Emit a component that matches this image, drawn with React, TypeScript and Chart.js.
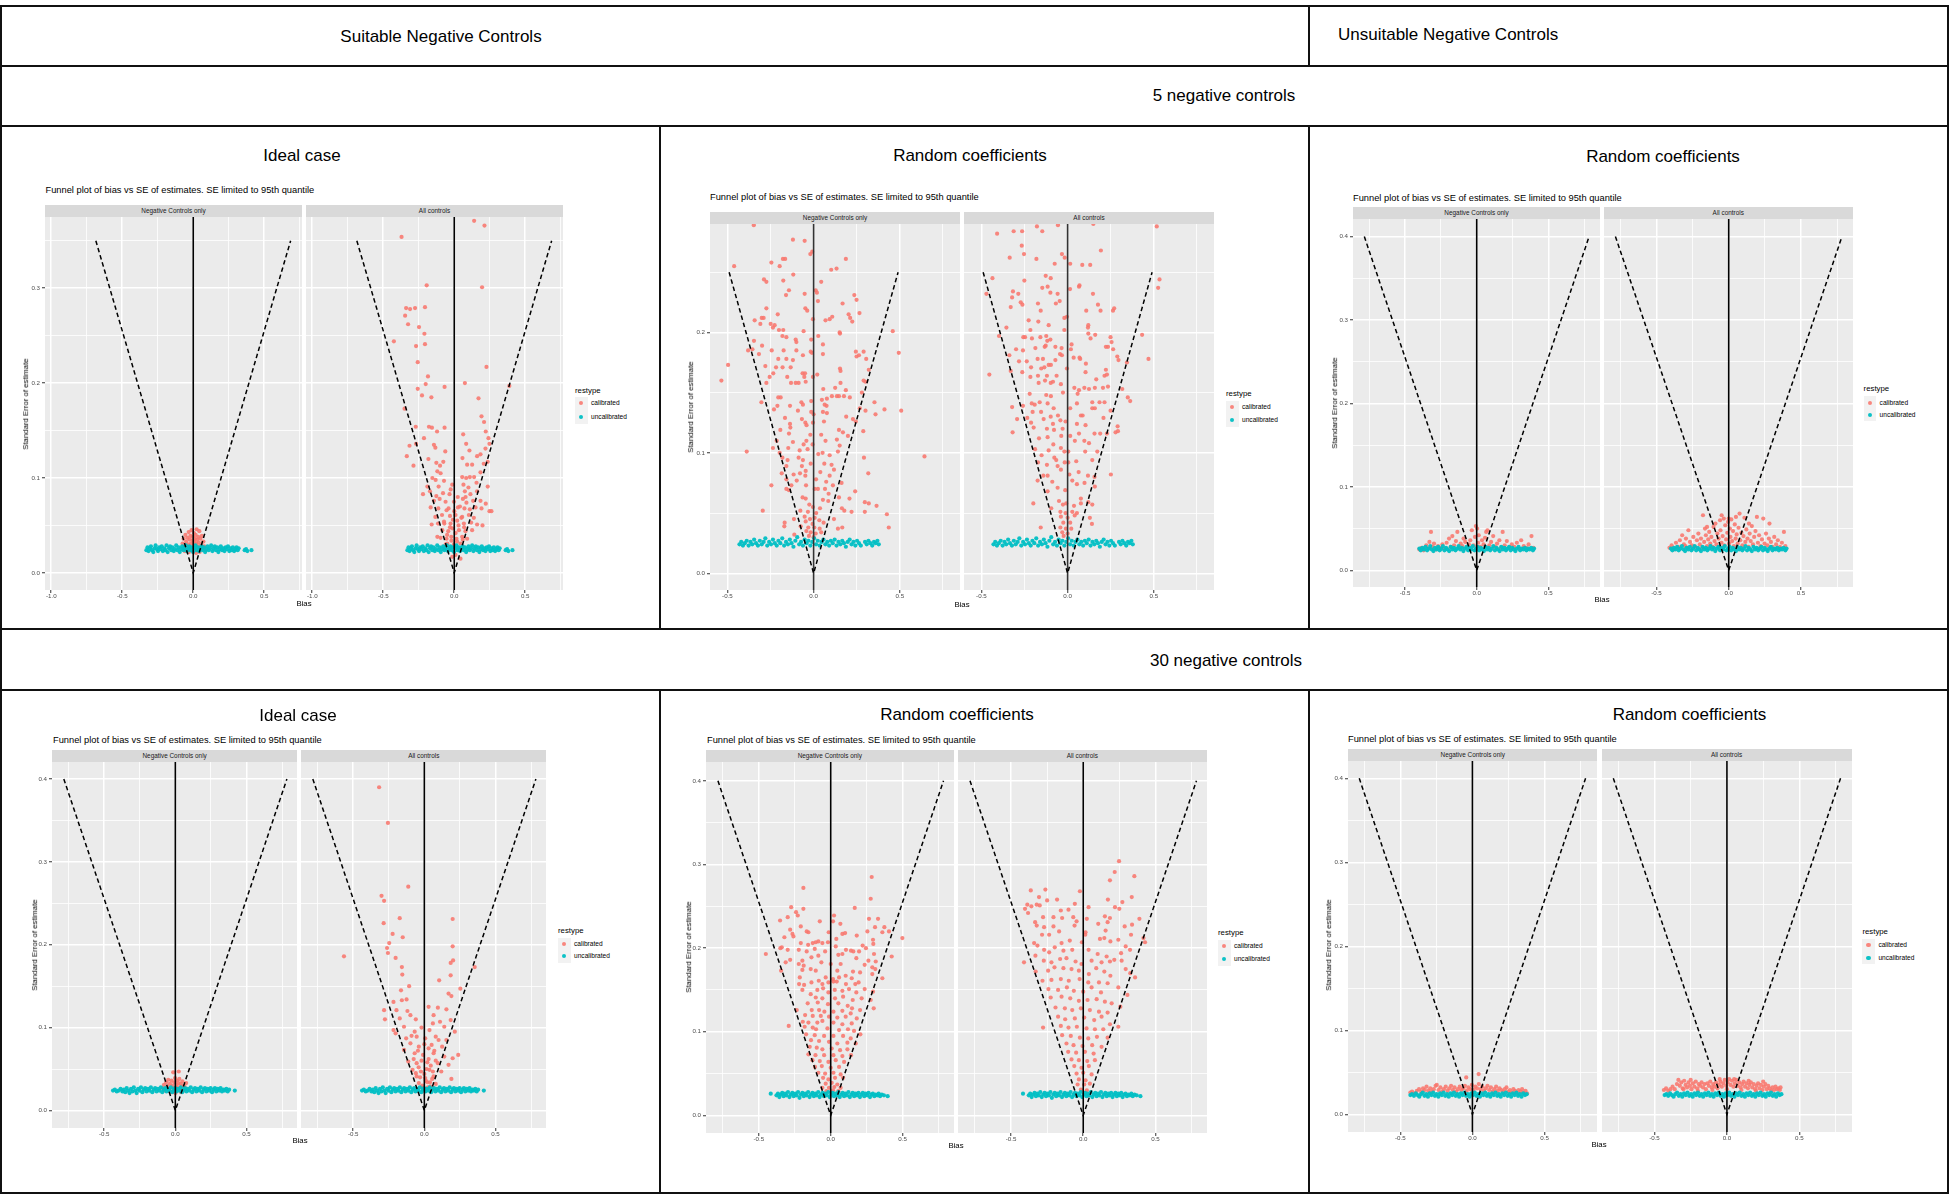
import React, { useEffect, useRef } from "react";
import { Chart, registerables } from "chart.js";

Chart.register(...registerables);

type Pt = [number, number];

// ---------------- text ----------------
const HEADER_SUITABLE = "Suitable Negative Controls";
const HEADER_UNSUITABLE = "Unsuitable Negative Controls";
const ROW_LABELS = ["5 negative controls", "30 negative controls"];
const PANEL_TITLES = ["Ideal case", "Random coefficients", "Random coefficients", "Ideal case", "Random coefficients", "Random coefficients"];
const SUBTITLE = "Funnel plot of bias vs SE of estimates. SE limited to 95th quantile";
const FACET_LABELS = ["Negative Controls only", "All controls"];
const LEGEND_TITLE = "restype";
const LEGEND_LABELS = ["calibrated", "uncalibrated"];
const X_TITLE = "Bias";
const Y_TITLE = "Standard Error of estimate";

// ---------------- ticks ----------------
const X_MAJOR_WIDE = [-1, -0.5, 0, 0.5];
const X_MAJOR = [-0.5, 0, 0.5];
const X_MINOR = [-0.75, -0.25, 0.25, 0.75];
const Y_MAJOR_035 = [0, 0.1, 0.2, 0.3];
const Y_MAJOR_025 = [0, 0.1, 0.2];
const Y_MAJOR_04 = [0, 0.1, 0.2, 0.3, 0.4];
const Y_MINOR = [0.05, 0.15, 0.25, 0.35];

// ---------------- funnel limits (bias = ±1.96·SE) ----------------
const FUNNEL_035: Pt[] = [[-0.686, 0.35], [0, 0], [0.686, 0.35]];
const FUNNEL_025: Pt[] = [[-0.49, 0.25], [0, 0], [0.49, 0.25]];
const FUNNEL_04: Pt[] = [[-0.784, 0.4], [0, 0], [0.784, 0.4]];
const ZERO_BIAS = 0;

// ---------------- uncalibrated estimates ----------------
const BAND_I5: Pt[] = [[-0.330,0.024],[-0.322,0.027],[-0.315,0.023],[-0.305,0.026],[-0.298,0.028],[-0.290,0.024],[-0.281,0.022],[-0.272,0.026],[-0.265,0.029],[-0.256,0.025],[-0.248,0.023],[-0.240,0.027],[-0.231,0.025],[-0.222,0.028],[-0.214,0.023],[-0.205,0.026],[-0.197,0.024],[-0.188,0.029],[-0.180,0.022],[-0.171,0.026],[-0.163,0.028],[-0.154,0.024],[-0.146,0.027],[-0.137,0.023],[-0.129,0.025],[-0.120,0.029],[-0.112,0.024],[-0.103,0.027],[-0.095,0.022],[-0.086,0.025],[-0.078,0.028],[-0.069,0.024],[-0.061,0.026],[-0.052,0.029],[-0.044,0.023],[-0.035,0.026],[-0.027,0.028],[-0.018,0.024],[-0.010,0.027],[-0.001,0.022],[0.007,0.026],[0.016,0.029],[0.024,0.024],[0.033,0.027],[0.041,0.023],[0.050,0.026],[0.058,0.028],[0.067,0.024],[0.075,0.027],[0.084,0.022],[0.092,0.025],[0.101,0.028],[0.109,0.024],[0.118,0.026],[0.126,0.029],[0.135,0.023],[0.143,0.026],[0.152,0.028],[0.160,0.024],[0.169,0.027],[0.177,0.022],[0.186,0.025],[0.194,0.028],[0.203,0.024],[0.211,0.026],[0.220,0.023],[0.228,0.027],[0.237,0.025],[0.245,0.028],[0.254,0.023],[0.262,0.026],[0.271,0.024],[0.279,0.027],[0.288,0.023],[0.296,0.025],[0.305,0.027],[0.313,0.024],[0.320,0.026],[0.362,0.024],[0.372,0.025],[0.381,0.023],[0.410,0.024]];
const BAND_R5: Pt[] = [[-0.430,0.024],[-0.420,0.026],[-0.410,0.023],[-0.399,0.025],[-0.388,0.027],[-0.377,0.023],[-0.366,0.026],[-0.356,0.024],[-0.345,0.028],[-0.334,0.025],[-0.323,0.023],[-0.312,0.027],[-0.301,0.024],[-0.290,0.026],[-0.280,0.029],[-0.269,0.023],[-0.258,0.026],[-0.247,0.024],[-0.236,0.028],[-0.225,0.025],[-0.214,0.023],[-0.204,0.027],[-0.193,0.025],[-0.182,0.029],[-0.171,0.023],[-0.160,0.026],[-0.149,0.024],[-0.138,0.028],[-0.128,0.025],[-0.117,0.022],[-0.106,0.027],[-0.095,0.030],[-0.084,0.024],[-0.073,0.026],[-0.062,0.023],[-0.052,0.028],[-0.041,0.025],[-0.030,0.027],[-0.019,0.023],[-0.008,0.026],[0.003,0.029],[0.014,0.024],[0.024,0.027],[0.035,0.023],[0.046,0.026],[0.057,0.028],[0.068,0.024],[0.079,0.026],[0.090,0.023],[0.100,0.027],[0.111,0.025],[0.122,0.028],[0.133,0.023],[0.144,0.026],[0.155,0.024],[0.166,0.027],[0.176,0.025],[0.187,0.022],[0.198,0.026],[0.209,0.028],[0.220,0.024],[0.231,0.026],[0.242,0.023],[0.252,0.027],[0.263,0.025],[0.274,0.023],[0.298,0.026],[0.308,0.024],[0.318,0.027],[0.329,0.025],[0.340,0.023],[0.350,0.026],[0.360,0.025],[0.370,0.027],[0.378,0.024]];
const BAND_U5: Pt[] = [[-0.400,0.026],[-0.390,0.024],[-0.379,0.027],[-0.368,0.025],[-0.357,0.028],[-0.346,0.024],[-0.335,0.026],[-0.324,0.029],[-0.313,0.025],[-0.302,0.023],[-0.291,0.027],[-0.280,0.025],[-0.269,0.028],[-0.258,0.024],[-0.247,0.026],[-0.236,0.029],[-0.225,0.024],[-0.214,0.027],[-0.203,0.025],[-0.192,0.023],[-0.181,0.028],[-0.170,0.025],[-0.159,0.027],[-0.148,0.024],[-0.137,0.026],[-0.126,0.029],[-0.115,0.025],[-0.104,0.027],[-0.093,0.023],[-0.082,0.026],[-0.071,0.028],[-0.060,0.024],[-0.049,0.027],[-0.038,0.025],[-0.027,0.029],[-0.016,0.024],[-0.005,0.026],[0.006,0.028],[0.017,0.024],[0.028,0.027],[0.039,0.025],[0.050,0.023],[0.061,0.028],[0.072,0.025],[0.083,0.027],[0.094,0.024],[0.105,0.026],[0.116,0.029],[0.127,0.024],[0.138,0.027],[0.149,0.025],[0.160,0.023],[0.171,0.028],[0.182,0.025],[0.193,0.027],[0.204,0.024],[0.215,0.026],[0.226,0.028],[0.237,0.024],[0.248,0.027],[0.259,0.025],[0.270,0.023],[0.281,0.026],[0.292,0.028],[0.303,0.024],[0.314,0.026],[0.325,0.025],[0.336,0.027],[0.347,0.024],[0.358,0.026],[0.369,0.025],[0.380,0.027],[0.392,0.024],[0.400,0.026]];
const BAND_I30: Pt[] = [[-0.438,0.024],[-0.425,0.025],[-0.412,0.023],[-0.398,0.024],[-0.385,0.026],[-0.372,0.023],[-0.362,0.025],[-0.352,0.022],[-0.342,0.027],[-0.332,0.024],[-0.322,0.021],[-0.312,0.026],[-0.302,0.023],[-0.292,0.028],[-0.282,0.024],[-0.272,0.021],[-0.262,0.026],[-0.252,0.024],[-0.242,0.028],[-0.232,0.022],[-0.222,0.025],[-0.212,0.027],[-0.202,0.023],[-0.192,0.026],[-0.182,0.024],[-0.172,0.028],[-0.162,0.022],[-0.152,0.025],[-0.142,0.027],[-0.132,0.023],[-0.122,0.026],[-0.112,0.024],[-0.102,0.028],[-0.092,0.022],[-0.082,0.025],[-0.072,0.027],[-0.062,0.023],[-0.052,0.026],[-0.042,0.024],[-0.032,0.028],[-0.022,0.022],[-0.012,0.025],[-0.002,0.027],[0.008,0.023],[0.018,0.026],[0.028,0.024],[0.038,0.028],[0.048,0.022],[0.058,0.025],[0.068,0.027],[0.078,0.023],[0.088,0.026],[0.098,0.024],[0.108,0.028],[0.118,0.022],[0.128,0.025],[0.138,0.027],[0.148,0.023],[0.158,0.026],[0.168,0.024],[0.178,0.028],[0.188,0.022],[0.198,0.025],[0.208,0.027],[0.218,0.023],[0.228,0.026],[0.238,0.024],[0.248,0.027],[0.258,0.022],[0.268,0.025],[0.278,0.027],[0.288,0.023],[0.298,0.026],[0.308,0.024],[0.318,0.027],[0.328,0.023],[0.338,0.025],[0.348,0.024],[0.358,0.026],[0.368,0.023],[0.378,0.025],[0.418,0.024]];
const BAND_R30: Pt[] = [[-0.417,0.026],[-0.377,0.024],[-0.367,0.026],[-0.357,0.022],[-0.347,0.025],[-0.337,0.027],[-0.327,0.023],[-0.317,0.026],[-0.307,0.024],[-0.297,0.028],[-0.287,0.022],[-0.277,0.025],[-0.267,0.027],[-0.257,0.023],[-0.247,0.026],[-0.237,0.024],[-0.227,0.028],[-0.217,0.021],[-0.207,0.025],[-0.197,0.027],[-0.187,0.023],[-0.177,0.026],[-0.167,0.024],[-0.157,0.028],[-0.147,0.022],[-0.137,0.025],[-0.127,0.027],[-0.117,0.023],[-0.107,0.026],[-0.097,0.024],[-0.087,0.028],[-0.077,0.022],[-0.067,0.025],[-0.057,0.027],[-0.047,0.023],[-0.037,0.026],[-0.027,0.024],[-0.017,0.028],[-0.007,0.022],[0.003,0.025],[0.013,0.027],[0.023,0.023],[0.033,0.026],[0.043,0.024],[0.053,0.028],[0.063,0.022],[0.073,0.025],[0.083,0.027],[0.093,0.023],[0.103,0.026],[0.113,0.024],[0.123,0.028],[0.133,0.022],[0.143,0.025],[0.153,0.027],[0.163,0.023],[0.173,0.026],[0.183,0.024],[0.193,0.027],[0.203,0.022],[0.213,0.025],[0.223,0.027],[0.233,0.023],[0.243,0.026],[0.253,0.024],[0.263,0.027],[0.273,0.022],[0.283,0.025],[0.293,0.026],[0.303,0.023],[0.313,0.025],[0.323,0.024],[0.333,0.026],[0.343,0.023],[0.355,0.025],[0.370,0.024],[0.396,0.023]];
const BAND_U30: Pt[] = [[-0.430,0.023],[-0.418,0.024],[-0.405,0.022],[-0.392,0.025],[-0.380,0.023],[-0.368,0.021],[-0.356,0.024],[-0.344,0.026],[-0.332,0.022],[-0.320,0.024],[-0.308,0.021],[-0.296,0.025],[-0.284,0.023],[-0.272,0.026],[-0.260,0.022],[-0.248,0.024],[-0.236,0.021],[-0.224,0.025],[-0.212,0.023],[-0.200,0.026],[-0.188,0.022],[-0.176,0.024],[-0.164,0.021],[-0.152,0.025],[-0.140,0.023],[-0.128,0.026],[-0.116,0.022],[-0.104,0.024],[-0.092,0.021],[-0.080,0.025],[-0.068,0.023],[-0.056,0.026],[-0.044,0.022],[-0.032,0.024],[-0.020,0.021],[-0.008,0.025],[0.004,0.023],[0.016,0.026],[0.028,0.022],[0.040,0.024],[0.052,0.021],[0.064,0.025],[0.076,0.023],[0.088,0.026],[0.100,0.022],[0.112,0.024],[0.124,0.021],[0.136,0.025],[0.148,0.023],[0.160,0.026],[0.172,0.022],[0.184,0.024],[0.196,0.021],[0.208,0.025],[0.220,0.023],[0.232,0.026],[0.244,0.022],[0.256,0.024],[0.268,0.021],[0.280,0.025],[0.292,0.023],[0.304,0.026],[0.316,0.022],[0.328,0.024],[0.340,0.021],[0.352,0.025],[0.364,0.023],[0.376,0.024]];

// ---------------- calibrated estimates ----------------
const I5_NC_CAL: Pt[] = [[-0.075,0.031],[-0.068,0.036],[-0.062,0.028],[-0.055,0.040],[-0.050,0.033],[-0.046,0.025],[-0.041,0.037],[-0.036,0.030],[-0.032,0.043],[-0.028,0.027],[-0.024,0.035],[-0.020,0.039],[-0.016,0.031],[-0.012,0.045],[-0.009,0.026],[-0.005,0.034],[-0.002,0.038],[0.002,0.029],[0.005,0.042],[0.008,0.033],[0.011,0.036],[0.014,0.024],[0.017,0.040],[0.020,0.031],[0.024,0.046],[0.027,0.035],[0.031,0.028],[0.035,0.038],[0.039,0.032],[0.043,0.044],[0.047,0.027],[0.051,0.036],[0.056,0.030],[0.061,0.039],[0.066,0.025],[0.072,0.033],[0.078,0.028],[-0.030,0.022],[0.020,0.021],[0.045,0.022],[-0.060,0.023],[0.083,0.024]];
const I5_ALL_CAL: Pt[] = [[0.140,0.371],[0.213,0.366],[-0.371,0.354],[-0.194,0.303],[0.196,0.301],[-0.339,0.279],[-0.311,0.278],[-0.276,0.279],[-0.206,0.280],[-0.346,0.271],[-0.325,0.262],[-0.248,0.259],[-0.210,0.252],[-0.425,0.244],[-0.269,0.239],[-0.206,0.241],[-0.257,0.222],[0.227,0.217],[-0.185,0.207],[-0.201,0.199],[-0.257,0.194],[-0.068,0.196],[0.075,0.200],[0.388,0.197],[-0.227,0.187],[-0.161,0.185],[0.171,0.184],[-0.350,0.173],[0.192,0.165],[-0.271,0.154],[-0.178,0.154],[-0.157,0.153],[-0.068,0.153],[-0.121,0.149],[0.210,0.159],[-0.213,0.142],[0.063,0.146],[0.222,0.149],[0.241,0.142],[-0.315,0.134],[-0.269,0.136],[-0.143,0.135],[-0.133,0.132],[0.084,0.136],[0.248,0.136],[0.220,0.131],[-0.334,0.123],[-0.287,0.113],[-0.182,0.120],[-0.063,0.128],[0.058,0.121],[0.107,0.129],[0.161,0.123],[0.185,0.125],[0.208,0.115],[0.236,0.117],[-0.126,0.116],[-0.100,0.113],[-0.077,0.117],[0.091,0.114],[0.126,0.114],[-0.119,0.107],[-0.096,0.105],[0.056,0.101],[0.084,0.100],[0.110,0.101],[0.140,0.101],[0.185,0.106],[-0.154,0.100],[-0.131,0.098],[-0.072,0.097],[-0.014,0.093],[0.065,0.093],[0.157,0.095],[0.236,0.091],[-0.189,0.091],[-0.110,0.091],[-0.220,0.083],[-0.171,0.086],[-0.126,0.081],[-0.079,0.084],[-0.033,0.083],[0.075,0.086],[0.114,0.083],[0.161,0.086],[0.222,0.073],[-0.143,0.076],[-0.103,0.078],[-0.061,0.075],[-0.002,0.075],[0.061,0.078],[0.086,0.074],[0.133,0.076],[0.185,0.076],[-0.166,0.069],[-0.112,0.068],[-0.054,0.066],[0.026,0.069],[0.072,0.068],[0.110,0.067],[0.150,0.069],[0.192,0.068],[0.248,0.065],[0.262,0.065],[0.199,0.050],[-0.159,0.051],[-0.133,0.059],[-0.086,0.061],[-0.030,0.060],[0.009,0.061],[0.056,0.059],[0.103,0.061],[0.138,0.058],[-0.114,0.052],[-0.072,0.054],[-0.026,0.052],[0.021,0.055],[0.068,0.052],[0.119,0.053],[0.161,0.051],[-0.119,0.038],[-0.084,0.045],[-0.042,0.044],[-0.014,0.047],[0.033,0.045],[0.079,0.044],[0.126,0.045],[-0.096,0.037],[-0.054,0.036],[-0.021,0.038],[0.016,0.036],[0.056,0.038],[0.091,0.036],[-0.049,0.031],[-0.002,0.030],[0.044,0.031],[-0.030,0.026],[0.026,0.026],[0.009,0.019],[0.044,0.015],[-0.014,0.017],[-0.050,0.040],[-0.030,0.048],[-0.010,0.056],[0.010,0.042],[0.030,0.050],[0.050,0.058],[-0.020,0.034],[0.020,0.033],[0.000,0.065],[0.040,0.070],[-0.040,0.068],[0.070,0.048],[-0.070,0.052],[0.060,0.035],[-0.060,0.030],[0.000,0.028],[0.025,0.080],[-0.025,0.088],[0.080,0.080],[0.100,0.090]];
const R5_NC_CAL: Pt[] = [[-0.347,0.289],[-0.120,0.277],[-0.052,0.276],[-0.008,0.267],[-0.019,0.265],[-0.461,0.255],[-0.245,0.258],[-0.197,0.255],[-0.178,0.261],[-0.165,0.261],[0.187,0.261],[0.102,0.252],[0.133,0.253],[-0.118,0.248],[-0.288,0.244],[-0.274,0.242],[-0.176,0.243],[0.044,0.242],[0.012,0.235],[0.019,0.233],[-0.143,0.235],[-0.160,0.231],[-0.052,0.232],[0.236,0.231],[0.249,0.227],[0.025,0.226],[0.168,0.224],[-0.274,0.220],[-0.048,0.220],[-0.037,0.218],[-0.208,0.215],[0.203,0.215],[0.266,0.216],[0.212,0.212],[0.224,0.209],[-0.004,0.211],[-0.342,0.210],[-0.301,0.212],[-0.290,0.212],[-0.309,0.207],[-0.249,0.207],[-0.226,0.206],[-0.236,0.204],[0.069,0.210],[0.093,0.211],[0.108,0.213],[-0.201,0.202],[-0.176,0.202],[-0.058,0.201],[0.151,0.200],[0.153,0.199],[0.459,0.201],[0.027,0.197],[-0.181,0.197],[-0.158,0.196],[-0.014,0.194],[-0.104,0.194],[-0.100,0.192],[-0.346,0.193],[0.054,0.190],[-0.299,0.189],[-0.380,0.185],[-0.355,0.186],[-0.243,0.185],[-0.174,0.185],[-0.100,0.185],[-0.017,0.184],[-0.010,0.183],[0.245,0.184],[0.290,0.184],[0.494,0.183],[0.263,0.181],[0.249,0.180],[-0.317,0.182],[0.054,0.182],[-0.062,0.181],[0.305,0.178],[-0.205,0.178],[-0.158,0.178],[-0.120,0.177],[-0.496,0.173],[-0.280,0.172],[-0.218,0.171],[-0.180,0.171],[-0.133,0.171],[0.153,0.170],[0.156,0.168],[0.320,0.169],[-0.234,0.166],[-0.064,0.166],[-0.050,0.166],[0.021,0.165],[-0.255,0.163],[-0.153,0.163],[-0.054,0.163],[-0.004,0.163],[-0.535,0.160],[-0.274,0.158],[-0.131,0.158],[-0.104,0.158],[-0.087,0.158],[-0.046,0.159],[0.156,0.158],[0.290,0.160],[0.301,0.159],[0.056,0.153],[0.125,0.154],[0.187,0.152],[0.135,0.147],[0.147,0.147],[0.176,0.147],[0.210,0.146],[0.106,0.147],[0.077,0.145],[0.048,0.144],[-0.014,0.143],[-0.205,0.146],[-0.191,0.146],[0.280,0.150],[-0.303,0.142],[0.353,0.142],[-0.071,0.142],[-0.062,0.140],[0.064,0.140],[0.075,0.139],[-0.210,0.139],[-0.137,0.139],[-0.230,0.136],[-0.091,0.135],[0.268,0.137],[0.301,0.135],[0.411,0.136],[0.508,0.135],[0.359,0.132],[-0.014,0.134],[0.000,0.132],[0.054,0.134],[0.077,0.133],[0.189,0.130],[-0.166,0.129],[-0.068,0.128],[-0.048,0.125],[-0.004,0.125],[0.060,0.126],[0.228,0.128],[0.245,0.126],[-0.137,0.124],[-0.041,0.123],[-0.193,0.119],[-0.135,0.121],[0.147,0.119],[0.170,0.117],[0.288,0.118],[-0.143,0.116],[-0.019,0.115],[0.044,0.115],[0.199,0.114],[-0.214,0.110],[-0.120,0.109],[-0.042,0.110],[0.069,0.110],[0.135,0.111],[-0.058,0.107],[-0.006,0.107],[0.151,0.106],[-0.236,0.104],[-0.147,0.104],[-0.081,0.102],[-0.035,0.103],[-0.388,0.101],[0.052,0.100],[0.027,0.099],[0.093,0.098],[0.141,0.101],[-0.197,0.100],[-0.181,0.096],[-0.087,0.096],[-0.062,0.094],[0.292,0.096],[0.643,0.097],[-0.151,0.094],[-0.017,0.091],[0.062,0.091],[0.104,0.090],[0.118,0.086],[-0.158,0.089],[-0.068,0.089],[-0.046,0.085],[0.039,0.084],[-0.185,0.083],[-0.116,0.082],[-0.079,0.083],[-0.048,0.081],[0.317,0.083],[0.093,0.081],[-0.158,0.078],[0.014,0.078],[0.073,0.076],[-0.098,0.077],[-0.245,0.073],[-0.129,0.073],[-0.044,0.073],[0.112,0.073],[0.162,0.075],[-0.158,0.070],[-0.143,0.069],[0.006,0.070],[0.025,0.070],[0.066,0.070],[0.241,0.068],[0.087,0.066],[-0.064,0.063],[-0.046,0.062],[0.054,0.061],[0.085,0.060],[0.147,0.063],[0.208,0.062],[0.297,0.059],[0.320,0.058],[0.365,0.056],[-0.025,0.057],[-0.004,0.055],[0.037,0.054],[0.164,0.054],[-0.295,0.052],[-0.077,0.052],[-0.033,0.051],[0.015,0.050],[0.178,0.052],[0.220,0.051],[0.297,0.051],[0.425,0.049],[-0.114,0.045],[-0.052,0.047],[-0.021,0.045],[0.006,0.046],[0.033,0.044],[0.118,0.045],[-0.168,0.042],[-0.046,0.043],[-0.006,0.041],[0.058,0.042],[0.436,0.038],[-0.170,0.039],[-0.075,0.039],[-0.031,0.038],[0.004,0.038],[0.035,0.037],[0.141,0.037],[0.166,0.038],[-0.042,0.035],[-0.017,0.034],[0.012,0.033],[0.044,0.034],[-0.027,0.031],[0.000,0.030],[-0.112,0.032]];
const R5_ALL_CAL: Pt[] = [[-0.409,0.282],[-0.313,0.284],[-0.264,0.284],[-0.178,0.288],[-0.147,0.284],[-0.056,0.289],[0.149,0.290],[0.517,0.288],[-0.266,0.272],[-0.336,0.262],[-0.253,0.265],[-0.181,0.261],[-0.033,0.265],[-0.017,0.262],[0.193,0.268],[-0.075,0.257],[0.015,0.257],[0.085,0.256],[0.131,0.256],[-0.436,0.245],[-0.251,0.243],[-0.127,0.247],[-0.098,0.245],[0.533,0.244],[0.525,0.237],[-0.471,0.232],[-0.317,0.234],[-0.322,0.229],[-0.286,0.232],[-0.147,0.237],[-0.116,0.238],[-0.100,0.233],[-0.058,0.232],[0.014,0.236],[0.066,0.238],[0.069,0.239],[0.147,0.232],[-0.272,0.225],[-0.262,0.223],[-0.172,0.224],[-0.068,0.224],[-0.046,0.226],[0.176,0.223],[-0.330,0.221],[-0.156,0.218],[0.108,0.218],[0.191,0.218],[0.263,0.218],[0.270,0.220],[-0.004,0.213],[-0.019,0.212],[-0.226,0.210],[-0.170,0.209],[-0.110,0.206],[-0.355,0.204],[-0.216,0.202],[-0.019,0.202],[0.120,0.206],[0.118,0.204],[0.432,0.198],[-0.398,0.197],[-0.257,0.196],[-0.247,0.196],[-0.207,0.195],[-0.158,0.196],[-0.124,0.197],[-0.100,0.194],[0.120,0.199],[0.133,0.195],[0.160,0.198],[0.249,0.196],[0.023,0.190],[-0.118,0.193],[0.255,0.192],[-0.259,0.185],[-0.299,0.186],[-0.187,0.187],[-0.133,0.188],[-0.127,0.189],[-0.071,0.188],[-0.035,0.187],[0.019,0.186],[0.222,0.188],[0.234,0.188],[0.264,0.186],[-0.338,0.181],[-0.044,0.182],[-0.033,0.181],[0.035,0.179],[0.069,0.179],[0.288,0.180],[0.469,0.178],[-0.282,0.176],[-0.237,0.176],[-0.174,0.178],[-0.143,0.178],[-0.071,0.177],[0.073,0.178],[0.295,0.177],[-0.110,0.173],[-0.097,0.173],[0.106,0.174],[0.344,0.175],[-0.330,0.168],[-0.212,0.171],[-0.135,0.171],[-0.004,0.170],[-0.263,0.167],[-0.153,0.170],[0.222,0.169],[-0.454,0.165],[-0.172,0.164],[-0.120,0.164],[-0.064,0.164],[0.104,0.167],[-0.216,0.163],[0.214,0.164],[0.228,0.165],[-0.098,0.158],[-0.085,0.159],[-0.131,0.160],[-0.168,0.158],[0.166,0.161],[-0.039,0.157],[0.039,0.154],[0.097,0.154],[0.124,0.153],[0.158,0.154],[0.205,0.154],[0.234,0.155],[0.317,0.153],[-0.220,0.149],[-0.124,0.148],[-0.097,0.147],[-0.027,0.150],[0.058,0.149],[0.066,0.152],[0.349,0.146],[0.363,0.143],[-0.259,0.139],[-0.208,0.141],[-0.191,0.140],[-0.162,0.142],[-0.116,0.141],[0.054,0.141],[0.143,0.142],[0.185,0.142],[0.214,0.142],[-0.322,0.138],[-0.081,0.137],[0.015,0.137],[0.143,0.137],[0.158,0.137],[0.249,0.135],[-0.203,0.134],[-0.154,0.134],[-0.056,0.131],[0.077,0.131],[0.087,0.131],[-0.293,0.128],[-0.234,0.129],[-0.139,0.128],[-0.098,0.130],[-0.042,0.127],[-0.012,0.126],[0.208,0.129],[0.054,0.124],[0.104,0.123],[0.290,0.122],[-0.212,0.125],[-0.085,0.124],[-0.197,0.121],[-0.120,0.120],[-0.319,0.117],[-0.079,0.119],[-0.029,0.120],[0.156,0.116],[0.189,0.116],[0.228,0.116],[0.278,0.117],[0.292,0.118],[-0.037,0.114],[0.015,0.114],[0.066,0.116],[-0.166,0.112],[-0.116,0.113],[0.042,0.110],[0.097,0.110],[0.124,0.108],[-0.083,0.107],[-0.189,0.103],[-0.110,0.102],[-0.039,0.104],[-0.019,0.101],[0.004,0.101],[0.102,0.101],[0.172,0.101],[-0.151,0.098],[-0.077,0.096],[-0.066,0.094],[-0.017,0.092],[0.004,0.092],[0.050,0.093],[0.143,0.094],[-0.172,0.092],[-0.120,0.090],[-0.058,0.089],[-0.039,0.086],[-0.174,0.077],[-0.141,0.081],[-0.116,0.081],[0.010,0.082],[0.064,0.084],[0.118,0.081],[0.251,0.082],[0.156,0.080],[-0.089,0.076],[0.027,0.077],[0.054,0.074],[0.098,0.075],[-0.058,0.071],[-0.014,0.069],[-0.116,0.068],[0.158,0.072],[0.077,0.062],[-0.199,0.058],[-0.050,0.060],[-0.027,0.057],[-0.008,0.058],[0.037,0.056],[0.077,0.058],[0.120,0.059],[0.143,0.057],[-0.095,0.054],[-0.042,0.051],[-0.012,0.050],[0.027,0.051],[0.054,0.050],[-0.039,0.047],[0.000,0.046],[0.041,0.048],[0.129,0.046],[-0.156,0.038],[-0.025,0.042],[0.015,0.042],[0.141,0.041],[-0.042,0.038],[-0.010,0.037],[0.021,0.037],[-0.031,0.034],[0.000,0.033],[-0.023,0.031]];
const U5_NC_CAL: Pt[] = [[-0.400,0.025],[-0.385,0.027],[-0.370,0.024],[-0.352,0.030],[-0.340,0.026],[-0.330,0.034],[-0.319,0.046],[-0.310,0.028],[-0.298,0.032],[-0.285,0.025],[-0.270,0.029],[-0.255,0.027],[-0.240,0.031],[-0.225,0.026],[-0.210,0.033],[-0.193,0.038],[-0.182,0.028],[-0.170,0.041],[-0.158,0.030],[-0.145,0.035],[-0.135,0.046],[-0.125,0.027],[-0.112,0.032],[-0.100,0.029],[-0.092,0.038],[-0.080,0.034],[-0.068,0.027],[-0.055,0.031],[-0.045,0.036],[-0.034,0.048],[-0.022,0.030],[-0.012,0.040],[-0.006,0.053],[0.003,0.050],[0.010,0.033],[0.014,0.042],[0.025,0.028],[0.037,0.036],[0.048,0.031],[0.058,0.039],[0.066,0.046],[0.075,0.048],[0.088,0.030],[0.100,0.034],[0.115,0.041],[0.128,0.028],[0.142,0.032],[0.158,0.036],[0.170,0.027],[0.181,0.046],[0.195,0.030],[0.210,0.035],[0.228,0.027],[0.245,0.031],[0.262,0.028],[0.280,0.033],[0.295,0.026],[0.310,0.036],[0.328,0.029],[0.345,0.027],[0.362,0.031],[0.382,0.041],[0.395,0.027]];
const U5_ALL_CAL: Pt[] = [[-0.410,0.027],[-0.395,0.030],[-0.380,0.025],[-0.365,0.033],[-0.350,0.028],[-0.338,0.036],[-0.322,0.042],[-0.310,0.031],[-0.296,0.038],[-0.285,0.027],[-0.279,0.048],[-0.268,0.034],[-0.255,0.030],[-0.245,0.040],[-0.232,0.028],[-0.220,0.036],[-0.210,0.044],[-0.200,0.031],[-0.192,0.038],[-0.183,0.027],[-0.178,0.066],[-0.170,0.034],[-0.164,0.050],[-0.158,0.042],[-0.150,0.029],[-0.142,0.037],[-0.135,0.046],[-0.128,0.032],[-0.120,0.040],[-0.112,0.028],[-0.105,0.052],[-0.098,0.035],[-0.092,0.056],[-0.085,0.031],[-0.078,0.044],[-0.070,0.038],[-0.064,0.027],[-0.057,0.048],[-0.050,0.033],[-0.049,0.066],[-0.042,0.041],[-0.034,0.062],[-0.030,0.030],[-0.024,0.054],[-0.018,0.037],[-0.010,0.045],[-0.004,0.058],[0.003,0.032],[0.008,0.050],[0.012,0.040],[0.018,0.061],[0.024,0.035],[0.030,0.047],[0.036,0.029],[0.042,0.055],[0.048,0.038],[0.055,0.043],[0.062,0.032],[0.068,0.051],[0.075,0.068],[0.080,0.036],[0.088,0.045],[0.095,0.030],[0.102,0.041],[0.109,0.063],[0.115,0.034],[0.122,0.049],[0.130,0.038],[0.138,0.028],[0.145,0.044],[0.152,0.035],[0.160,0.053],[0.168,0.031],[0.176,0.040],[0.185,0.047],[0.195,0.064],[0.202,0.033],[0.210,0.042],[0.220,0.029],[0.230,0.037],[0.239,0.062],[0.248,0.032],[0.258,0.044],[0.268,0.030],[0.278,0.038],[0.282,0.056],[0.292,0.034],[0.302,0.028],[0.315,0.040],[0.328,0.031],[0.340,0.036],[0.355,0.028],[0.368,0.033],[0.382,0.046],[0.392,0.029],[-0.300,0.029],[-0.150,0.052],[-0.060,0.060],[0.000,0.062],[0.050,0.064],[0.140,0.056]];
const I30_NC_CAL: Pt[] = [[-0.090,0.027],[-0.080,0.031],[-0.072,0.024],[-0.064,0.034],[-0.057,0.029],[-0.050,0.037],[-0.044,0.026],[-0.038,0.032],[-0.032,0.023],[-0.027,0.036],[-0.021,0.030],[-0.015,0.046],[-0.012,0.027],[-0.007,0.034],[-0.002,0.039],[0.003,0.025],[0.008,0.031],[0.012,0.036],[0.017,0.028],[0.022,0.033],[0.024,0.047],[0.028,0.038],[0.033,0.026],[0.038,0.032],[0.044,0.029],[0.050,0.035],[0.056,0.024],[0.062,0.030],[0.069,0.027],[0.076,0.033],[0.083,0.025],[-0.025,0.022],[0.040,0.022],[0.000,0.021]];
const I30_ALL_CAL: Pt[] = [[-0.318,0.390],[-0.256,0.347],[-0.113,0.270],[-0.301,0.259],[-0.283,0.253],[-0.173,0.232],[0.199,0.231],[-0.286,0.226],[-0.223,0.213],[-0.152,0.209],[-0.247,0.202],[-0.262,0.196],[-0.256,0.190],[0.199,0.198],[-0.202,0.184],[-0.565,0.186],[0.202,0.181],[0.185,0.178],[-0.158,0.173],[0.354,0.173],[-0.155,0.164],[0.185,0.163],[0.104,0.157],[-0.107,0.150],[-0.164,0.145],[0.253,0.147],[0.170,0.141],[0.190,0.138],[-0.217,0.131],[-0.158,0.133],[-0.125,0.134],[-0.283,0.121],[-0.196,0.121],[-0.119,0.120],[0.030,0.125],[0.095,0.124],[0.155,0.122],[-0.277,0.110],[-0.173,0.111],[-0.098,0.115],[0.065,0.115],[0.185,0.109],[0.110,0.107],[-0.217,0.097],[-0.143,0.101],[-0.068,0.095],[0.036,0.097],[0.140,0.101],[0.214,0.095],[-0.202,0.093],[-0.128,0.087],[-0.054,0.089],[0.006,0.087],[0.080,0.089],[0.155,0.085],[-0.098,0.081],[-0.039,0.077],[0.051,0.079],[0.125,0.077],[0.238,0.067],[-0.143,0.073],[-0.068,0.069],[-0.009,0.067],[0.065,0.069],[0.140,0.065],[0.199,0.063],[-0.113,0.059],[-0.054,0.057],[0.021,0.058],[0.095,0.057],[0.170,0.055],[-0.083,0.049],[-0.024,0.047],[0.036,0.049],[0.119,0.047],[0.190,0.038],[-0.054,0.041],[0.006,0.039],[0.065,0.041],[-0.039,0.033],[0.021,0.034],[0.080,0.032],[-0.009,0.028],[0.042,0.029],[-0.060,0.045],[-0.040,0.052],[-0.020,0.060],[0.000,0.044],[0.015,0.050],[0.030,0.062],[0.045,0.054],[0.060,0.047],[-0.030,0.040],[0.010,0.036],[0.040,0.034],[-0.015,0.030],[0.025,0.028],[0.055,0.038],[-0.075,0.062],[0.080,0.060],[-0.045,0.072],[0.030,0.075],[0.070,0.072],[-0.090,0.090],[0.100,0.085],[-0.020,0.100],[0.060,0.105],[0.000,0.080],[-0.060,0.110]];
const R30_NC_CAL: Pt[] = [[0.285,0.285],[-0.190,0.272],[0.278,0.259],[-0.275,0.249],[-0.190,0.247],[-0.241,0.243],[-0.229,0.239],[0.167,0.248],[-0.299,0.237],[-0.352,0.233],[0.023,0.239],[0.266,0.235],[0.329,0.235],[0.016,0.232],[0.067,0.229],[-0.076,0.232],[-0.282,0.222],[-0.208,0.226],[0.373,0.225],[0.308,0.225],[-0.266,0.217],[-0.259,0.214],[-0.167,0.220],[-0.155,0.219],[-0.014,0.219],[0.081,0.217],[0.100,0.218],[0.181,0.215],[0.255,0.220],[0.359,0.219],[0.405,0.220],[-0.322,0.213],[0.039,0.211],[0.498,0.212],[0.294,0.210],[-0.125,0.206],[-0.104,0.207],[-0.086,0.208],[-0.058,0.206],[-0.019,0.207],[-0.208,0.206],[-0.157,0.204],[0.296,0.205],[0.222,0.203],[-0.340,0.201],[0.035,0.202],[0.106,0.198],[0.157,0.196],[-0.451,0.193],[-0.350,0.200],[-0.299,0.198],[-0.222,0.198],[-0.167,0.196],[-0.111,0.199],[-0.039,0.196],[0.053,0.192],[0.081,0.193],[0.141,0.197],[0.197,0.196],[0.245,0.200],[0.301,0.193],[0.424,0.190],[-0.134,0.189],[-0.086,0.191],[-0.282,0.186],[-0.197,0.185],[0.178,0.188],[0.262,0.185],[0.313,0.184],[-0.313,0.183],[-0.222,0.181],[-0.188,0.179],[-0.065,0.183],[0.000,0.181],[0.069,0.181],[0.236,0.180],[0.289,0.177],[0.310,0.175],[-0.345,0.173],[-0.197,0.174],[-0.139,0.175],[-0.104,0.173],[0.046,0.173],[0.155,0.172],[0.204,0.171],[0.289,0.169],[0.359,0.164],[-0.215,0.165],[-0.035,0.165],[0.016,0.163],[0.058,0.165],[0.104,0.167],[0.146,0.164],[-0.220,0.157],[-0.185,0.156],[-0.134,0.159],[-0.083,0.161],[-0.058,0.157],[-0.016,0.159],[0.019,0.160],[0.042,0.160],[0.106,0.157],[0.171,0.157],[0.194,0.159],[0.236,0.151],[-0.197,0.150],[-0.093,0.150],[-0.053,0.152],[-0.016,0.147],[0.028,0.150],[0.081,0.149],[0.127,0.151],[0.178,0.147],[0.294,0.148],[-0.139,0.145],[-0.104,0.141],[-0.058,0.140],[0.030,0.140],[0.086,0.142],[0.153,0.138],[0.215,0.140],[0.278,0.138],[-0.160,0.134],[-0.090,0.135],[-0.019,0.133],[0.053,0.134],[0.118,0.131],[0.148,0.128],[0.299,0.128],[0.204,0.126],[-0.236,0.126],[-0.132,0.126],[-0.081,0.126],[-0.044,0.124],[0.019,0.124],[0.081,0.125],[0.139,0.122],[-0.178,0.120],[-0.125,0.119],[-0.069,0.119],[-0.012,0.118],[0.046,0.117],[0.104,0.118],[0.181,0.116],[-0.194,0.112],[-0.155,0.111],[-0.093,0.111],[-0.058,0.113],[0.019,0.111],[0.081,0.109],[0.146,0.110],[-0.292,0.107],[-0.181,0.106],[-0.125,0.105],[-0.102,0.103],[-0.023,0.104],[0.058,0.102],[0.120,0.103],[0.206,0.097],[0.162,0.101],[-0.171,0.097],[-0.111,0.096],[-0.046,0.095],[0.019,0.095],[0.086,0.095],[0.139,0.092],[-0.137,0.090],[-0.081,0.089],[-0.012,0.088],[0.046,0.086],[0.116,0.087],[0.174,0.086],[-0.146,0.082],[-0.097,0.081],[-0.058,0.079],[0.007,0.080],[0.065,0.078],[0.116,0.079],[-0.155,0.073],[-0.106,0.072],[-0.046,0.072],[0.019,0.072],[0.081,0.071],[0.141,0.072],[-0.127,0.066],[-0.076,0.065],[-0.016,0.064],[0.035,0.066],[0.093,0.064],[-0.109,0.058],[-0.062,0.059],[0.000,0.057],[0.058,0.058],[-0.086,0.051],[-0.039,0.050],[0.019,0.051],[0.069,0.049],[-0.053,0.045],[-0.016,0.043],[0.030,0.045],[0.086,0.045],[-0.035,0.038],[0.007,0.039],[0.046,0.037],[-0.058,0.033],[-0.012,0.033],[0.025,0.034],[0.069,0.033],[-0.030,0.029],[0.016,0.030],[0.053,0.029]];
const R30_ALL_CAL: Pt[] = [[0.248,0.304],[0.218,0.291],[0.354,0.286],[0.185,0.281],[-0.363,0.269],[-0.262,0.270],[-0.023,0.268],[-0.306,0.261],[-0.250,0.257],[-0.181,0.258],[0.171,0.258],[0.336,0.261],[0.271,0.255],[-0.387,0.252],[-0.403,0.247],[-0.359,0.250],[-0.322,0.252],[-0.301,0.251],[-0.058,0.253],[0.037,0.249],[0.220,0.249],[0.250,0.247],[-0.382,0.242],[-0.155,0.245],[-0.102,0.246],[0.150,0.238],[0.185,0.236],[0.389,0.235],[-0.333,0.231],[-0.278,0.237],[-0.206,0.237],[-0.146,0.236],[-0.069,0.237],[-0.046,0.232],[0.025,0.235],[0.104,0.229],[0.169,0.231],[0.287,0.226],[0.338,0.228],[-0.322,0.227],[-0.271,0.225],[-0.206,0.226],[-0.167,0.220],[-0.060,0.227],[0.016,0.219],[0.014,0.216],[0.155,0.221],[0.417,0.212],[0.428,0.207],[0.331,0.216],[-0.285,0.216],[-0.236,0.216],[-0.340,0.206],[-0.317,0.203],[-0.271,0.198],[-0.197,0.201],[-0.150,0.206],[-0.093,0.209],[-0.009,0.207],[0.116,0.211],[0.146,0.212],[0.188,0.208],[0.243,0.210],[0.294,0.202],[0.324,0.198],[-0.236,0.195],[-0.137,0.197],[-0.076,0.198],[0.037,0.198],[0.100,0.193],[0.162,0.190],[0.262,0.194],[-0.410,0.183],[-0.331,0.191],[-0.273,0.185],[-0.220,0.183],[-0.160,0.187],[-0.116,0.188],[-0.053,0.184],[-0.012,0.181],[0.058,0.185],[0.127,0.183],[0.185,0.184],[0.215,0.186],[0.266,0.185],[-0.329,0.172],[-0.243,0.173],[-0.199,0.177],[-0.137,0.176],[-0.081,0.175],[-0.030,0.173],[0.039,0.169],[0.090,0.176],[0.146,0.172],[0.188,0.167],[0.294,0.175],[0.326,0.170],[0.359,0.165],[-0.282,0.161],[-0.220,0.162],[-0.155,0.163],[-0.100,0.161],[-0.025,0.163],[0.035,0.159],[0.109,0.159],[0.169,0.158],[0.243,0.153],[-0.241,0.151],[-0.174,0.150],[-0.113,0.153],[-0.065,0.149],[0.000,0.148],[0.058,0.153],[0.123,0.147],[0.306,0.144],[-0.225,0.141],[-0.150,0.142],[-0.090,0.140],[-0.030,0.137],[0.030,0.138],[0.093,0.139],[0.150,0.136],[0.197,0.134],[0.257,0.130],[-0.192,0.129],[-0.127,0.128],[-0.076,0.126],[-0.016,0.128],[0.046,0.126],[0.109,0.124],[0.169,0.123],[-0.174,0.118],[-0.125,0.115],[-0.058,0.116],[0.007,0.117],[0.076,0.114],[0.127,0.118],[0.185,0.109],[0.243,0.106],[-0.278,0.105],[-0.155,0.107],[-0.102,0.105],[-0.044,0.106],[0.023,0.104],[0.081,0.103],[0.139,0.103],[-0.146,0.096],[-0.086,0.095],[-0.023,0.093],[0.035,0.092],[0.095,0.094],[0.169,0.093],[-0.116,0.086],[-0.067,0.084],[-0.005,0.083],[0.062,0.084],[0.127,0.082],[-0.104,0.076],[-0.049,0.075],[0.012,0.076],[0.072,0.074],[-0.081,0.067],[-0.030,0.066],[0.028,0.065],[0.081,0.066],[-0.062,0.059],[-0.012,0.057],[0.039,0.059],[-0.046,0.050],[0.000,0.051],[0.058,0.049],[-0.030,0.043],[0.016,0.042],[-0.039,0.037],[0.007,0.037],[0.046,0.038],[-0.016,0.031],[0.025,0.030]];
const U30_NC_CAL: Pt[] = [[-0.430,0.026],[-0.418,0.027],[-0.400,0.025],[-0.385,0.028],[-0.370,0.030],[-0.355,0.027],[-0.342,0.031],[-0.330,0.029],[-0.318,0.033],[-0.305,0.028],[-0.292,0.031],[-0.280,0.027],[-0.268,0.030],[-0.255,0.034],[-0.247,0.035],[-0.235,0.029],[-0.222,0.032],[-0.210,0.027],[-0.198,0.030],[-0.185,0.033],[-0.172,0.028],[-0.160,0.031],[-0.148,0.034],[-0.136,0.029],[-0.124,0.032],[-0.112,0.027],[-0.100,0.030],[-0.088,0.033],[-0.076,0.029],[-0.064,0.031],[-0.052,0.034],[-0.043,0.044],[-0.040,0.028],[-0.028,0.032],[-0.016,0.030],[-0.004,0.035],[0.008,0.029],[0.020,0.033],[0.032,0.031],[0.043,0.048],[0.044,0.036],[0.056,0.030],[0.068,0.033],[0.080,0.028],[0.092,0.031],[0.104,0.034],[0.116,0.029],[0.128,0.032],[0.140,0.027],[0.152,0.030],[0.164,0.033],[0.176,0.028],[0.188,0.031],[0.200,0.029],[0.212,0.027],[0.224,0.030],[0.236,0.032],[0.248,0.027],[0.260,0.029],[0.272,0.026],[0.284,0.030],[0.296,0.028],[0.308,0.025],[0.320,0.029],[0.332,0.027],[0.344,0.030],[0.356,0.026],[0.368,0.028],[0.378,0.025]];
const U30_ALL_CAL: Pt[] = [[-0.435,0.029],[-0.420,0.031],[-0.405,0.028],[-0.390,0.030],[-0.375,0.033],[-0.360,0.030],[-0.345,0.036],[-0.335,0.041],[-0.325,0.034],[-0.315,0.038],[-0.305,0.031],[-0.295,0.040],[-0.285,0.035],[-0.275,0.032],[-0.265,0.038],[-0.255,0.034],[-0.245,0.030],[-0.235,0.037],[-0.225,0.033],[-0.215,0.039],[-0.205,0.031],[-0.195,0.036],[-0.185,0.034],[-0.175,0.038],[-0.165,0.032],[-0.155,0.036],[-0.145,0.030],[-0.135,0.037],[-0.125,0.034],[-0.115,0.039],[-0.105,0.032],[-0.095,0.036],[-0.085,0.033],[-0.075,0.038],[-0.065,0.031],[-0.055,0.035],[-0.045,0.039],[-0.035,0.033],[-0.025,0.037],[-0.015,0.041],[-0.005,0.034],[0.005,0.038],[0.015,0.042],[0.025,0.035],[0.035,0.040],[0.045,0.033],[0.055,0.037],[0.065,0.041],[0.075,0.034],[0.085,0.038],[0.095,0.032],[0.105,0.036],[0.115,0.039],[0.125,0.033],[0.135,0.037],[0.145,0.031],[0.155,0.035],[0.165,0.038],[0.175,0.032],[0.185,0.036],[0.195,0.030],[0.205,0.034],[0.215,0.037],[0.225,0.031],[0.235,0.035],[0.245,0.029],[0.255,0.033],[0.265,0.036],[0.275,0.030],[0.285,0.034],[0.295,0.031],[0.305,0.028],[0.315,0.032],[0.325,0.029],[0.335,0.033],[0.345,0.030],[0.355,0.031],[0.365,0.029],[0.370,0.032],[-0.300,0.030],[-0.200,0.028],[-0.100,0.029],[0.000,0.030],[0.100,0.029],[0.200,0.028],[-0.250,0.041],[-0.050,0.042],[0.050,0.042],[0.150,0.040],[0.250,0.039]];

// ---------------- panel wiring ----------------
const PANEL_DATA = [
  { cal: [I5_NC_CAL, I5_ALL_CAL], uncal: BAND_I5, funnel: FUNNEL_035, xMajor: X_MAJOR_WIDE, yMajor: Y_MAJOR_035 },
  { cal: [R5_NC_CAL, R5_ALL_CAL], uncal: BAND_R5, funnel: FUNNEL_025, xMajor: X_MAJOR, yMajor: Y_MAJOR_025 },
  { cal: [U5_NC_CAL, U5_ALL_CAL], uncal: BAND_U5, funnel: FUNNEL_04, xMajor: X_MAJOR, yMajor: Y_MAJOR_04 },
  { cal: [I30_NC_CAL, I30_ALL_CAL], uncal: BAND_I30, funnel: FUNNEL_04, xMajor: X_MAJOR, yMajor: Y_MAJOR_04 },
  { cal: [R30_NC_CAL, R30_ALL_CAL], uncal: BAND_R30, funnel: FUNNEL_04, xMajor: X_MAJOR, yMajor: Y_MAJOR_04 },
  { cal: [U30_NC_CAL, U30_ALL_CAL], uncal: BAND_U30, funnel: FUNNEL_04, xMajor: X_MAJOR, yMajor: Y_MAJOR_04 },
];

// ---------------- layout (page pixels) ----------------
const LAYOUT = [
  { titleX: 302, titleY: 155, subX: 45.5, subY: 191, stripTop: 205, plotTop: 217, plotBottom: 590, facets: [[45, 302], [306, 563]], xMin: -1.044, xMax: 0.766, yMin: -0.018, yMax: 0.375, legX: 575, legTitleY: 391, keyY: [403, 417], biasX: 304, biasY: 604, yLabX: 26, yLabY: 404, vlineColor: "#000" },
  { titleX: 970, titleY: 155, subX: 710, subY: 198, stripTop: 212, plotTop: 224, plotBottom: 590, facets: [[710, 960], [964, 1214]], xMin: -0.601, xMax: 0.849, yMin: -0.0139, yMax: 0.29, legX: 1226, legTitleY: 394, keyY: [407, 420], biasX: 962, biasY: 605, yLabX: 691, yLabY: 407, vlineColor: "#333" },
  { titleX: 1663, titleY: 156, subX: 1353, subY: 199, stripTop: 207, plotTop: 219, plotBottom: 586.7, facets: [[1353, 1600], [1604, 1852.5]], xMin: -0.863, xMax: 0.86, yMin: -0.02, yMax: 0.421, legX: 1863.6, legTitleY: 389, keyY: [402.7, 415], biasX: 1602, biasY: 600, yLabX: 1334.5, yLabY: 403, vlineColor: "#000" },
  { titleX: 298, titleY: 715, subX: 53, subY: 741, stripTop: 750, plotTop: 761.7, plotBottom: 1128.3, facets: [[52.2, 297.1], [301.3, 546.3]], xMin: -0.867, xMax: 0.855, yMin: -0.0212, yMax: 0.4205, legX: 558, legTitleY: 930.7, keyY: [944, 956], biasX: 300, biasY: 1141, yLabX: 34.5, yLabY: 945, vlineColor: "#000" },
  { titleX: 957, titleY: 714, subX: 707, subY: 741, stripTop: 750, plotTop: 761.7, plotBottom: 1132.7, facets: [[705.8, 953.8], [957.9, 1206.7]], xMin: -0.867, xMax: 0.857, yMin: -0.021, yMax: 0.4225, legX: 1218, legTitleY: 932.7, keyY: [946, 959], biasX: 956, biasY: 1146, yLabX: 689, yLabY: 946.7, vlineColor: "#000" },
  { titleX: 1689.5, titleY: 714, subX: 1348, subY: 740, stripTop: 749, plotTop: 760.7, plotBottom: 1131.7, facets: [[1348, 1597.4], [1601.5, 1851.6]], xMin: -0.862, xMax: 0.863, yMin: -0.021, yMax: 0.4206, legX: 1862.4, legTitleY: 931.7, keyY: [945, 957.7], biasX: 1599, biasY: 1145, yLabX: 1328.8, yLabY: 945, vlineColor: "#000" },
];

const FONT = "'Liberation Sans', Arial, Helvetica, sans-serif";
const COL_CAL = "rgba(248,118,109,0.88)";
const COL_UNCAL = "rgba(0,191,196,0.95)";
const PANEL_BG = "#EBEBEB";
const POINT_R = 2.1;
const PAD_R = 8;
const PAD_T = 6;
const PAD_B = 14;

const near = (arr: number[], v: any) => typeof v === "number" && arr.some((a) => Math.abs(a - v) < 1e-9);

const bgPlugin = {
  id: "panelBg",
  beforeDraw(chart: any) {
    const { ctx, chartArea: a } = chart;
    ctx.save();
    ctx.fillStyle = PANEL_BG;
    ctx.fillRect(a.left, a.top, a.right - a.left, a.bottom - a.top);
    ctx.restore();
  },
};

function buildChart(canvas: HTMLCanvasElement, pi: number, fi: number, padL: number) {
  const L = LAYOUT[pi];
  const D = PANEL_DATA[pi];
  const showY = fi === 0;
  const xTicks = [...D.xMajor, ...X_MINOR].filter((v) => v >= L.xMin && v <= L.xMax).sort((a, b) => a - b);
  const yTicks = [...D.yMajor, ...Y_MINOR].filter((v) => v >= L.yMin && v <= L.yMax).sort((a, b) => a - b);
  const toXY = (arr: Pt[]) => arr.map((p) => ({ x: p[0], y: p[1] }));
  const tickFont = { family: FONT, size: 6.2 };
  return new Chart(canvas, {
    type: "scatter",
    data: {
      datasets: [
        { data: toXY(D.funnel), showLine: true, borderColor: "#000", borderWidth: 1.5, borderDash: [4.5, 3], pointRadius: 0, order: 0 } as any,
        { data: [{ x: ZERO_BIAS, y: L.yMin }, { x: ZERO_BIAS, y: L.yMax }], showLine: true, borderColor: L.vlineColor, borderWidth: 1.6, pointRadius: 0, order: 0 } as any,
        { data: toXY(D.uncal), backgroundColor: COL_UNCAL, borderWidth: 0, pointRadius: POINT_R, order: 1 } as any,
        { data: toXY(D.cal[fi]), backgroundColor: COL_CAL, borderWidth: 0, pointRadius: POINT_R, order: 2 } as any,
      ],
    },
    options: {
      animation: false,
      responsive: false,
      maintainAspectRatio: false,
      events: [],
      layout: { padding: { left: 0, right: PAD_R, top: PAD_T, bottom: 0 }, autoPadding: false } as any,
      plugins: { legend: { display: false }, tooltip: { enabled: false }, title: { display: false } },
      scales: {
        x: {
          type: "linear",
          position: "bottom",
          min: L.xMin,
          max: L.xMax,
          bounds: "data",
          afterBuildTicks: (s: any) => { s.ticks = xTicks.map((v) => ({ value: v })); },
          afterFit: (s: any) => { s.height = PAD_B; },
          border: { display: false },
          grid: {
            color: "#FFFFFF",
            lineWidth: (c: any) => (near(D.xMajor, c.tick?.value) ? 1.5 : 0.8),
            drawTicks: true,
            tickLength: 3,
            tickWidth: 1,
            tickColor: (c: any) => (near(D.xMajor, c.tick?.value) ? "#333333" : "rgba(0,0,0,0)"),
          },
          ticks: {
            autoSkip: false, maxRotation: 0, minRotation: 0, padding: 0, color: "#4D4D4D", font: tickFont,
            callback: (v: any) => (near(D.xMajor, Number(v)) ? Number(v).toFixed(1) : ""),
          },
        },
        y: {
          type: "linear",
          position: "left",
          min: L.yMin,
          max: L.yMax,
          bounds: "data",
          afterBuildTicks: (s: any) => { s.ticks = yTicks.map((v) => ({ value: v })); },
          afterFit: (s: any) => { s.width = padL; },
          border: { display: false },
          grid: {
            color: "#FFFFFF",
            lineWidth: (c: any) => (near(D.yMajor, c.tick?.value) ? 1.5 : 0.8),
            drawTicks: showY,
            tickLength: 3,
            tickWidth: 1,
            tickColor: (c: any) => (near(D.yMajor, c.tick?.value) ? "#333333" : "rgba(0,0,0,0)"),
          },
          ticks: {
            display: showY, autoSkip: false, padding: 2, color: "#4D4D4D", font: tickFont,
            callback: (v: any) => (near(D.yMajor, Number(v)) ? Number(v).toFixed(1) : ""),
          },
        },
      },
    } as any,
    plugins: [bgPlugin],
  });
}

function Facet({ pi, fi }: { pi: number; fi: number }) {
  const ref = useRef<HTMLCanvasElement>(null);
  const L = LAYOUT[pi];
  const [l, r] = L.facets[fi];
  const padL = fi === 0 ? 40 : 10;
  const cl = Math.round(l), cr = Math.round(r);
  const ct = Math.round(L.plotTop), cb = Math.round(L.plotBottom);
  const w = cr - cl + padL + PAD_R;
  const h = cb - ct + PAD_T + PAD_B;
  useEffect(() => {
    const chart = buildChart(ref.current as HTMLCanvasElement, pi, fi, padL);
    return () => chart.destroy();
  }, []);
  return (
    <canvas ref={ref} width={w} height={h}
      style={{ position: "absolute", left: cl - padL, top: ct - PAD_T, width: w, height: h }} />
  );
}

function Txt(props: { x: number; y: number; size: number; text: string; align?: "left" | "center"; color?: string; rotate?: boolean }) {
  const { x, y, size, text, align = "center", color = "#000", rotate = false } = props;
  const tx = align === "center" ? "-50%" : "0";
  return (
    <div style={{
      position: "absolute", left: x, top: y, fontSize: size, fontFamily: FONT, color, whiteSpace: "nowrap",
      lineHeight: 1, transform: `translate(${tx},-50%)${rotate ? " rotate(-90deg)" : ""}`,
    }}>{text}</div>
  );
}

function Line({ x, y, w, h }: { x: number; y: number; w: number; h: number }) {
  return <div style={{ position: "absolute", left: x, top: y, width: w, height: h, background: "#111" }} />;
}

function Panel({ pi }: { pi: number }) {
  const L = LAYOUT[pi];
  const keyColors = [COL_CAL, COL_UNCAL];
  return (
    <>
      <Txt x={L.titleX} y={L.titleY} size={17} text={PANEL_TITLES[pi]} />
      <Txt x={L.subX} y={L.subY} size={9.3} text={SUBTITLE} align="left" />
      {L.facets.map(([l, r], fi) => (
        <React.Fragment key={fi}>
          <div style={{ position: "absolute", left: l, top: L.stripTop, width: r - l, height: L.plotTop - L.stripTop, background: "#D9D9D9" }} />
          <Txt x={(l + r) / 2} y={(L.stripTop + L.plotTop) / 2} size={6.4} text={FACET_LABELS[fi]} color="#1A1A1A" />
          <Facet pi={pi} fi={fi} />
        </React.Fragment>
      ))}
      <Txt x={L.biasX} y={L.biasY} size={7.8} text={X_TITLE} />
      <Txt x={L.yLabX} y={L.yLabY} size={7.8} text={Y_TITLE} rotate />
      <Txt x={L.legX} y={L.legTitleY} size={7.8} text={LEGEND_TITLE} align="left" />
      <div style={{ position: "absolute", left: L.legX, top: L.keyY[0] - 6.5, width: 12.5, height: L.keyY[1] - L.keyY[0] + 13, background: "#F2F2F2" }} />
      {LEGEND_LABELS.map((lab, k) => (
        <React.Fragment key={k}>
          <div style={{ position: "absolute", left: L.legX + 6.25 - 2.2, top: L.keyY[k] - 2.2, width: 4.4, height: 4.4, borderRadius: 2.2, background: keyColors[k] }} />
          <Txt x={L.legX + 16} y={L.keyY[k]} size={6.6} text={lab} align="left" />
        </React.Fragment>
      ))}
    </>
  );
}

export default function App() {
  return (
    <div style={{ position: "absolute", left: 0, top: 0, width: 1951, height: 1195, background: "#fff", overflow: "hidden" }}>
      {/* table rules */}
      <Line x={0} y={5} w={1949} h={2} />
      <Line x={0} y={65} w={1949} h={2} />
      <Line x={0} y={125} w={1949} h={2} />
      <Line x={0} y={628} w={1949} h={2} />
      <Line x={0} y={689} w={1949} h={2} />
      <Line x={0} y={1192} w={1949} h={2} />
      <Line x={0} y={5} w={2} h={1189} />
      <Line x={1947} y={5} w={2} h={1189} />
      <Line x={1307.5} y={5} w={2} h={62} />
      <Line x={658.5} y={125} w={2} h={505} />
      <Line x={1307.5} y={125} w={2} h={505} />
      <Line x={658.5} y={689} w={2} h={505} />
      <Line x={1307.5} y={689} w={2} h={505} />
      <Txt x={441} y={36} size={17} text={HEADER_SUITABLE} />
      <Txt x={1338} y={34} size={17} text={HEADER_UNSUITABLE} align="left" />
      <Txt x={1224} y={95} size={17} text={ROW_LABELS[0]} />
      <Txt x={1226} y={660} size={17} text={ROW_LABELS[1]} />
      {LAYOUT.map((_, pi) => <Panel key={pi} pi={pi} />)}
    </div>
  );
}
